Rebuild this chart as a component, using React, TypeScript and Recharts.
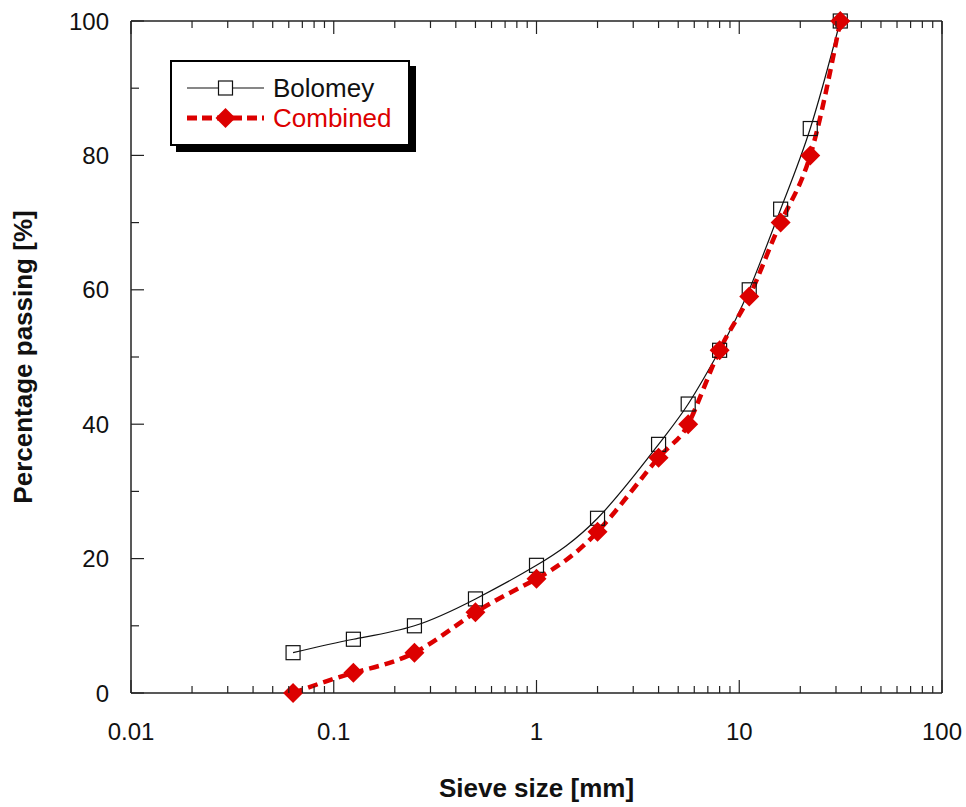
import { LineChart, Line, XAxis, YAxis, Legend, Label } from "recharts";

const sieveSizes = [0.063, 0.125, 0.25, 0.5, 1, 2, 4, 5.6, 8, 11.2, 16, 22.4, 31.5];
const bolomey = [6, 8, 10, 14, 19, 26, 37, 43, 51, 60, 72, 84, 100];
const combined = [0, 3, 6, 12, 17, 24, 35, 40, 51, 59, 70, 80, 100];

const xMajorTicks = [0.01, 0.1, 1, 10, 100];
const yTicks = [0, 10, 20, 30, 40, 50, 60, 70, 80, 90, 100];
const yMajorTicks = [0, 20, 40, 60, 80, 100];

const RED = "#dc0000";
const AXIS = "#222";
const FONT = "'Liberation Sans', Arial, sans-serif";

const data = sieveSizes.map((s, i) => ({
  size: s,
  bolomey: bolomey[i],
  combined: combined[i],
}));

// major ticks plus 2..9 in every decade
const xTicks: number[] = [];
xMajorTicks.forEach((m, i) => {
  xTicks.push(m);
  if (i < xMajorTicks.length - 1) {
    for (let k = 2; k <= 9; k++) xTicks.push(+(m * k).toPrecision(3));
  }
});

const isMajorX = (v: number) => xMajorTicks.includes(v);

const BottomTick = ({ x, y, payload }: any) => {
  const major = isMajorX(payload.value);
  return (
    <g>
      <line x1={x} x2={x} y1={y} y2={y - (major ? 13 : 7)} stroke={AXIS} strokeWidth={1.2} />
      {major && (
        <text x={x} y={y + 47} textAnchor="middle" fontSize={24} fill="#111">
          {payload.value}
        </text>
      )}
    </g>
  );
};

const TopTick = ({ x, y, payload }: any) => {
  const major = isMajorX(payload.value);
  return <line x1={x} x2={x} y1={y} y2={y + (major ? 13 : 7)} stroke={AXIS} strokeWidth={1.2} />;
};

const LeftTick = ({ x, y, payload }: any) => {
  const major = yMajorTicks.includes(payload.value);
  return (
    <g>
      <line x1={x} x2={x + (major ? 13 : 8)} y1={y} y2={y} stroke={AXIS} strokeWidth={1.2} />
      {major && (
        <text x={x - 22} y={y + 8.5} textAnchor="end" fontSize={24} fill="#111">
          {payload.value}
        </text>
      )}
    </g>
  );
};

const RightTick = ({ x, y, payload }: any) => {
  const major = yMajorTicks.includes(payload.value);
  return <line x1={x} x2={x - (major ? 13 : 8)} y1={y} y2={y} stroke={AXIS} strokeWidth={1.2} />;
};

const SquareDot = ({ cx, cy, index }: any) => (
  <rect key={"sq" + index} x={cx - 7} y={cy - 7} width={14} height={14} fill="none" stroke="#111" strokeWidth={1.2} />
);

const DiamondDot = ({ cx, cy, index }: any) => (
  <path key={"dm" + index} d={`M${cx},${cy - 10}L${cx + 10},${cy}L${cx},${cy + 10}L${cx - 10},${cy}Z`} fill={RED} />
);

const renderLegend = () => (
  <div
    style={{
      width: 236,
      height: 82,
      border: "2px solid #000",
      boxShadow: "6px 6px 0 #000",
      background: "#fff",
      position: "relative",
      fontFamily: FONT,
    }}
  >
    <svg width={80} height={20} style={{ position: "absolute", left: 15, top: 16 }}>
      <line x1={0} x2={77} y1={10} y2={10} stroke="#111" strokeWidth={1.2} />
      <rect x={31.5} y={3} width={14} height={14} fill="#fff" stroke="#111" strokeWidth={1.2} />
    </svg>
    <span style={{ position: "absolute", left: 101, top: 11, fontSize: 26, lineHeight: "30px", color: "#111" }}>
      Bolomey
    </span>
    <svg width={80} height={22} style={{ position: "absolute", left: 15, top: 45 }}>
      <line x1={0} x2={77} y1={11} y2={11} stroke={RED} strokeWidth={5} strokeDasharray="10 5" />
      <path d="M38.5,1L48.5,11L38.5,21L28.5,11Z" fill={RED} />
    </svg>
    <span style={{ position: "absolute", left: 101, top: 41, fontSize: 26, lineHeight: "30px", color: RED }}>
      Combined
    </span>
  </div>
);

export default function App() {
  return (
    <div style={{ position: "absolute", left: 0, top: 0, width: 966, height: 807, background: "#fff", fontFamily: FONT }}>
      <LineChart width={966} height={807} data={data} margin={{ top: 20, right: 23, bottom: 0, left: 0 }}>
        <XAxis
          dataKey="size"
          type="number"
          scale="log"
          domain={[0.01, 100]}
          ticks={xTicks}
          interval={0}
          height={114}
          tickSize={0}
          tickMargin={0}
          tickLine={false}
          axisLine={{ stroke: AXIS, strokeWidth: 1.5 }}
          tick={<BottomTick />}
        >
          <Label
            content={({ viewBox }: any) => (
              <text
                x={viewBox.x + viewBox.width / 2}
                y={797}
                textAnchor="middle"
                fontSize={26}
                fontWeight="bold"
                fill="#111"
              >
                Sieve size [mm]
              </text>
            )}
          />
        </XAxis>
        <XAxis
          xAxisId="top"
          orientation="top"
          dataKey="size"
          type="number"
          scale="log"
          domain={[0.01, 100]}
          ticks={xTicks}
          interval={0}
          height={1}
          tickSize={0}
          tickMargin={0}
          tickLine={false}
          axisLine={{ stroke: AXIS, strokeWidth: 1.5 }}
          tick={<TopTick />}
        />
        <YAxis
          type="number"
          domain={[0, 100]}
          ticks={yTicks}
          interval={0}
          width={131}
          tickSize={0}
          tickMargin={0}
          tickLine={false}
          axisLine={{ stroke: AXIS, strokeWidth: 1.5 }}
          tick={<LeftTick />}
        >
          <Label
            content={({ viewBox }: any) => {
              const cy = viewBox.y + viewBox.height / 2;
              return (
                <text
                  x={23}
                  y={cy}
                  transform={`rotate(-90 23 ${cy})`}
                  textAnchor="middle"
                  dominantBaseline="central"
                  fontSize={26}
                  fontWeight="bold"
                  fill="#111"
                >
                  Percentage passing [%]
                </text>
              );
            }}
          />
        </YAxis>
        <YAxis
          yAxisId="right"
          orientation="right"
          type="number"
          domain={[0, 100]}
          ticks={yTicks}
          interval={0}
          width={1}
          tickSize={0}
          tickMargin={0}
          tickLine={false}
          axisLine={{ stroke: AXIS, strokeWidth: 1.5 }}
          tick={<RightTick />}
        />
        <Line
          type="natural"
          dataKey="bolomey"
          name="Bolomey"
          stroke="#111"
          strokeWidth={1.2}
          dot={SquareDot}
          activeDot={false}
          isAnimationActive={false}
        />
        <Line
          type="natural"
          dataKey="combined"
          name="Combined"
          stroke={RED}
          strokeWidth={4.5}
          strokeDasharray="10 6"
          dot={DiamondDot}
          activeDot={false}
          isAnimationActive={false}
        />
        <Legend
          layout="vertical"
          align="center"
          verticalAlign="middle"
          wrapperStyle={{ left: 170, top: 60, width: 240, height: 86 }}
          content={renderLegend}
        />
      </LineChart>
    </div>
  );
}
